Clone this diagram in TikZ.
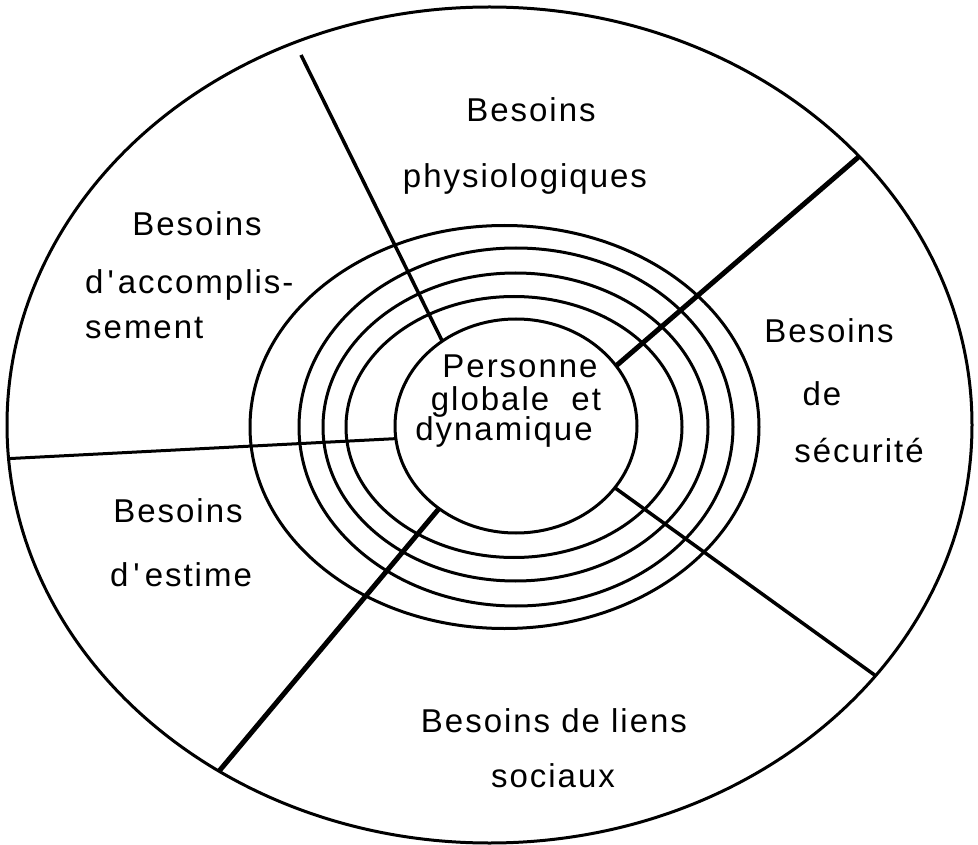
\documentclass[tikz,border=0pt]{standalone}
\usepackage{fontspec}
\setmainfont{Liberation Sans}[LetterSpace=6, Ligatures=TeXOff]
\usetikzlibrary{shapes.geometric}
\begin{document}
\begin{tikzpicture}[x=1pt,y=-1pt,
  oval/.style={draw, ellipse, inner sep=0pt, outer sep=0pt, line width=3pt},
  spoke/.style={line width=3.5pt},
  heavy/.style={line width=5pt},
  lbl/.style={anchor=base, inner sep=0pt, font=\fontsize{33}{38}\selectfont},
  lbll/.style={anchor=base west, inner sep=0pt, font=\fontsize{33}{38}\selectfont}]
\useasboundingbox (0,0) rectangle (978,845);
% outer ellipse and rings
\node[oval, minimum width=965pt, minimum height=836pt] (outer) at (489.5,425) {};
\node[oval, minimum width=509pt, minimum height=403pt] (r4) at (504.5,427) {};
\node[oval, minimum width=434pt, minimum height=358pt] (r3) at (516,427) {};
\node[oval, minimum width=385pt, minimum height=308pt] (r2) at (515.5,427) {};
\node[oval, minimum width=336pt, minimum height=261pt] (r1) at (514,427) {};
\node[oval, minimum width=242pt, minimum height=214pt] (core) at (516,426) {};
% spokes
\coordinate (topfree) at (301,55);
\draw[spoke] (topfree) -- (core.131);
\draw[heavy] (outer.36.9) -- (core.31.7);
\draw[spoke] (outer.-33.4) -- (core.-32.4);
\draw[heavy] (outer.232.4) -- (core.227.9);
\draw[line width=3pt] (outer.184.5) -- (core.186);
% labels
\node[lbl] (phys1) at (531,122) {Besoins};
\node[lbl] (phys2) at (525,188) {physiologiques};
\node[lbl] (acc1) at (197,236) {Besoins};
\node[lbll] (acc2) at (85,294) {d\kern4pt'\kern4pt accomplis-};
\node[lbll] (acc3) at (85,338) {sement};
\node[lbl] (per1) at (520,377) {Personne};
\node[lbl] (per2) at (516,410) {globale\ \ et};
\node[lbl] (per3) at (504,440) {dynamique};
\node[lbl] (sec1) at (829,342) {Besoins};
\node[lbl] (sec2) at (822,405) {de};
\node[lbl] (sec3) at (859,462) {sécurité};
\node[lbl] (est1) at (178,522) {Besoins};
\node[lbl] (est2) at (181,586) {d\kern5pt'\kern5pt estime};
\node[lbl] (soc1) at (554,732) {Besoins de\ liens};
\node[lbl] (soc2) at (553,787) {sociaux};
\end{tikzpicture}
\end{document}
